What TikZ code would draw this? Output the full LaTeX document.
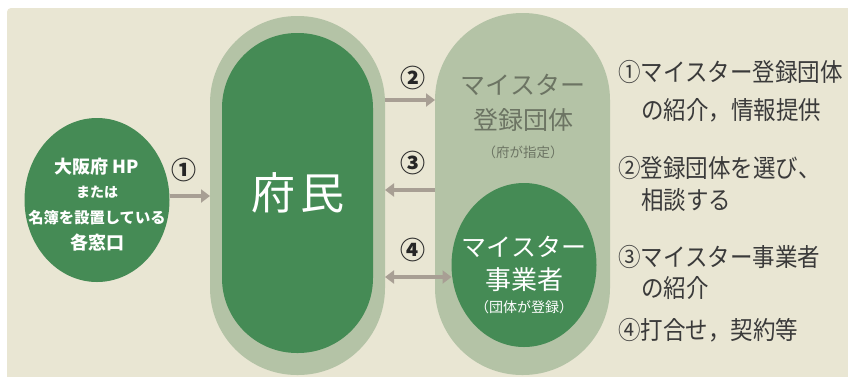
\documentclass[tikz,border=0pt]{standalone}
\usepackage{fontspec}
\setmainfont{Noto Sans CJK JP}
\newfontfamily\jpc[FakeStretch=0.9]{Noto Sans CJK JP}
\usetikzlibrary{shapes.geometric,arrows.meta}
\definecolor{beige}{HTML}{E9E6D3}
\definecolor{lightg}{HTML}{B4C3A6}
\definecolor{darkg}{HTML}{458B55}
\definecolor{arrowc}{HTML}{A89F94}
\definecolor{softtext}{HTML}{6C7463}
\definecolor{listtext}{HTML}{3A3A3A}
\tikzset{
  stad/.style={rectangle, inner sep=0pt, outer sep=0pt, draw=none},
  oval/.style={ellipse, inner sep=0pt, outer sep=0pt, draw=none},
  flow/.style={draw=arrowc, line width=3.6pt, -{Triangle[length=9pt,width=13pt]}},
  flowboth/.style={draw=arrowc, line width=3.6pt, {Triangle[length=9pt,width=13pt]}-{Triangle[length=9pt,width=13pt]}},
  num/.style={font=\fontsize{25}{25}\selectfont\bfseries, text=black!85, inner sep=0pt},
  wtxt/.style={text=white, inner sep=0pt},
  gtxt/.style={text=softtext, inner sep=0pt},
  ltxt/.style={text=listtext, inner sep=0pt, anchor=west, font=\jpc\fontsize{25}{25}\selectfont}
}
\begin{document}
\begin{tikzpicture}[x=1pt,y=-1pt]
\useasboundingbox (0,0) rectangle (848,376);
\fill[white] (0,0) rectangle (848,376);
\fill[beige, rounded corners=4pt] (7,8) rectangle (860,390);

% left circle
\node[oval, fill=darkg, minimum width=145pt, minimum height=164pt] (lc) at (97,200) {};
\node[wtxt, font=\fontsize{18}{18}\selectfont\bfseries] (lc1) at (97,167) {大阪府 HP};
\node[wtxt, font=\fontsize{14}{14}\selectfont\bfseries] (lc2) at (97,192) {または};
\node[wtxt, font=\fontsize{15.3}{15.3}\selectfont\bfseries] (lc3) at (97,218) {名簿を設置している};
\node[wtxt, font=\fontsize{18}{18}\selectfont\bfseries] (lc4) at (97,243) {各窓口};

% 府民
\node[stad, fill=lightg, minimum width=175pt, minimum height=359pt, rounded corners=87pt] (fo) at (297.5,195.5) {};
\node[stad, fill=darkg, minimum width=151pt, minimum height=320pt, rounded corners=75pt] (fi) at (297.5,193) {};
\node[wtxt, font=\fontsize{44}{44}\selectfont] (fumin) at (298,193) {府\hspace{5pt}民};

% right stadium
\node[stad, fill=lightg, minimum width=175pt, minimum height=362pt, rounded corners=87pt] (ro) at (522.5,194) {};
\node[gtxt, font=\fontsize{25}{25}\selectfont] (r1) at (523,85) {マイスター};
\node[gtxt, font=\fontsize{25}{25}\selectfont] (r2) at (523,120) {登録団体};
\node[gtxt, font=\fontsize{13.5}{13.5}\selectfont] (r3) at (523,152) {（府が指定）};

\node[oval, fill=darkg, minimum width=145pt, minimum height=164pt] (rc) at (524,265) {};
\node[wtxt, font=\fontsize{25}{25}\selectfont] (rc1) at (524,247) {マイスター};
\node[wtxt, font=\fontsize{26}{26}\selectfont] (rc2) at (524,280) {事業者};
\node[wtxt, font=\fontsize{14}{14}\selectfont] (rc3) at (524,307) {（団体が登録）};

% arrows
\draw[flow] (lc.east |- 0,196) -- (fo.west |- 0,196);
\draw[flow] (fo.east |- 0,100) -- (ro.west |- 0,100);
\draw[flow] (ro.west |- 0,190) -- (fo.east |- 0,190);
\draw[flowboth] (fo.east |- 0,277) -- (rc.west |- 0,277);

\node[num] (n1) at (184,170) {①};
\node[num] (n2) at (413,78) {②};
\node[num] (n3) at (413,163) {③};
\node[num] (n4) at (413,250) {④};

% list
\node[ltxt] (t1) at (618,72) {①マイスター登録団体};
\node[ltxt] (t2) at (641,110) {の紹介，情報提供};
\node[ltxt] (t3) at (618,168) {②登録団体を選び、};
\node[ltxt] (t4) at (641,200) {相談する};
\node[ltxt] (t5) at (618,257) {③マイスター事業者};
\node[ltxt] (t6) at (641,288) {の紹介};
\node[ltxt] (t7) at (618,330) {④打合せ，契約等};
\end{tikzpicture}
\end{document}
